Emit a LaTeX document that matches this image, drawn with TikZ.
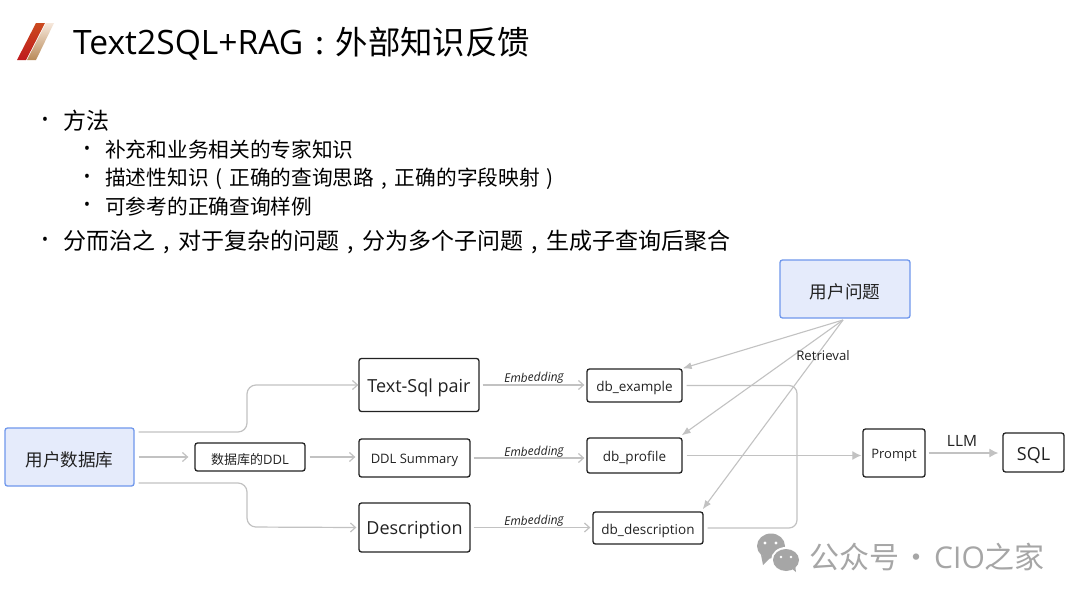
\documentclass[tikz,border=0pt]{standalone}
\usepackage{fontspec}
\setmainfont{Noto Sans CJK SC}
\newfontfamily\latf{Open Sans}
\usetikzlibrary{arrows.meta}
\definecolor{linegray}{HTML}{C2C2C2}
\definecolor{bluefill}{HTML}{E5EBFB}
\definecolor{blueedge}{HTML}{7098EC}
\definecolor{inkc}{HTML}{222222}
\definecolor{markc}{HTML}{A6A6A6}
\definecolor{logoa}{HTML}{BF1A1E}
\definecolor{logob}{HTML}{CB4A1E}
\definecolor{logoc}{HTML}{B98A58}
\definecolor{logod}{HTML}{F6E8DC}
\newcommand{\fs}[1]{\fontsize{#1}{#1}\selectfont}
\newcommand{\fw}[1]{\makebox[1em][c]{#1}}
\newcommand{\dn}[1]{\raisebox{-2.6pt}[\height][\depth]{#1}}
\tikzset{
  darkbox/.style={draw=inkc,line width=1.3pt,rounded corners=2.5pt,fill=white,inner sep=0pt,text=inkc},
  bluebox/.style={draw=blueedge,line width=1.3pt,rounded corners=2.5pt,fill=bluefill,inner sep=0pt,text=inkc},
  txt/.style={inner sep=0pt,anchor=west,text=black},
  dot/.style={inner sep=0pt,anchor=center,text=black,font=\latf\fs{17}},
  conn/.style={draw=linegray,line width=1.2pt,rounded corners=9pt,-{Straight Barb[length=5pt,width=9pt]}},
  plainconn/.style={draw=linegray,line width=1.2pt,rounded corners=8pt},
  solidconn/.style={draw=linegray,line width=1.2pt,-{Latex[length=9pt,width=9pt]}},
  retr/.style={draw=linegray,line width=1.1pt,-{Latex[length=9pt,width=7pt]}},
  emb/.style={inner sep=0pt,text=inkc,font=\latf\itshape\fs{12}},
}
\begin{document}
\begin{tikzpicture}[x=1pt,y=-1pt]
\useasboundingbox (0,0) rectangle (1080,600);
\fill[white] (0,0) rectangle (1080,600);
% logo
\shade[bottom color=logoa,top color=logob] (17,60) -- (26,60) -- (45,23) -- (36,23) -- cycle;
\shade[bottom color=logoc,top color=logod] (27,60) -- (36,60) -- (54,23) -- (46,23) -- cycle;
% title and bullets
\node[txt] (title) at (73,44) {\fs{32.4}{\latf\fs{33.6}Text2SQL+RAG}\fw{:}外部知识反馈};
\node[dot] (b1) at (45,121) {•};
\node[txt] (t1) at (63,121) {\fs{23}方法};
\node[dot] (b2) at (87,150) {•};
\node[txt] (t2) at (105,150) {\fs{20.7}补充和业务相关的专家知识};
\node[dot] (b3) at (87,178) {•};
\node[txt] (t3) at (105,179) {\fs{20.7}描述性知识\fw{(}正确的查询思路\fw{,}正确的字段映射\fw{)}};
\node[dot] (b4) at (87,206) {•};
\node[txt] (t4) at (105,207) {\fs{20.7}可参考的正确查询样例};
\node[dot] (b5) at (45,241) {•};
\node[txt] (t5) at (63,242) {\fs{23}分而治之\fw{,}对于复杂的问题\fw{,}分为多个子问题\fw{,}生成子查询后聚合};
% boxes
\node[bluebox,minimum width=129pt,minimum height=58pt] (udb) at (69.5,457) {\dn{\fs{17.6}用户数据库}};
\node[darkbox,minimum width=110pt,minimum height=28pt] (ddl) at (250,457) {\dn{\fs{13}数据库的{\latf DDL}}};
\node[darkbox,minimum width=120pt,minimum height=53pt] (pair) at (419,385) {\dn{\latf\fs{18}Text-Sql pair}};
\node[darkbox,minimum width=111pt,minimum height=38pt] (sum) at (414.5,458) {\dn{\latf\fs{13}DDL Summary}};
\node[darkbox,minimum width=111pt,minimum height=49pt] (desc) at (414.5,527.5) {\dn{\latf\fs{18}Description}};
\node[darkbox,minimum width=95pt,minimum height=33pt] (dbe) at (634.5,385.5) {\dn{\latf\fs{13.5}db\_example}};
\node[darkbox,minimum width=95pt,minimum height=35pt] (dbp) at (634.5,455.5) {\dn{\latf\fs{13.5}db\_profile}};
\node[darkbox,minimum width=110pt,minimum height=32pt] (dbd) at (648,528) {\dn{\latf\fs{13.5}db\_description}};
\node[darkbox,minimum width=62pt,minimum height=48pt] (prm) at (894,453) {\dn{\latf\fs{13}Prompt}};
\node[darkbox,minimum width=61pt,minimum height=39pt] (sql) at (1033.5,452.5) {\dn{\latf\fs{18}SQL}};
\node[bluebox,minimum width=130pt,minimum height=58pt] (uq) at (845,289) {\dn{\fs{17.6}用户问题}};
% left connectors
\coordinate (ut) at ([xshift=4pt,yshift=25pt]udb.east);
\coordinate (ub) at ([xshift=4pt,yshift=-26pt]udb.east);
\coordinate (bendt) at (247,385);
\coordinate (bendb) at (247,527);
\draw[conn] (ut) -- (bendt |- ut) -- (bendt) -- (pair.west);
\draw[conn] (ub) -- (bendb |- ub) -- (bendb) -- ([xshift=-2pt]desc.west);
\draw[conn] ([xshift=4pt]udb.east) -- ([xshift=-6pt]ddl.west);
\draw[conn] ([xshift=4pt]ddl.east) -- ([xshift=-3pt]sum.west |- ddl.east);
% embedding
\draw[conn] ([xshift=3pt]pair.east) -- ([xshift=-2pt]dbe.west |- pair.east);
\draw[conn] ([xshift=3pt]sum.east) -- ([xshift=-2pt]dbp.west |- sum.east);
\draw[conn] ([xshift=3pt]desc.east) -- ([xshift=-2pt]dbd.west |- desc.east);
\node[emb,rotate=2] (e1) at (534,378.5) {Embedding};
\node[emb,rotate=2] (e2) at (534,452.5) {Embedding};
\node[emb,rotate=2] (e3) at (534,521.5) {Embedding};
% merge
\coordinate (mx) at (797,0);
\draw[plainconn] ([xshift=4pt]dbe.east) -- (mx |- dbe.east) -- (mx |- dbd.east) -- ([xshift=4pt]dbd.east);
\draw[solidconn] ([xshift=4pt]dbp.east) -- ([xshift=-1pt]prm.west |- dbp.east);
\draw[solidconn] ([xshift=3pt]prm.east) -- ([xshift=-4pt]sql.west |- prm.east);
% retrieval
\coordinate (rs) at (843,320);
\draw[retr] (rs) -- (dbe.north east);
\draw[retr] (rs) -- ([xshift=-1pt,yshift=2pt]dbp.north east);
\draw[retr] (rs) -- ([xshift=-1pt,yshift=2pt]dbd.north east);
\node[inner sep=0pt,text=inkc,font=\latf\fs{13.2}] (rl) at (823,355.5) {Retrieval};
\node[inner sep=0pt,text=inkc,font=\latf\fs{15.5}] (llm) at (962,441) {LLM};
% watermark
\fill[markc] (771,546) ellipse (14pt and 12.5pt);
\fill[markc] (761,555) -- (763,565) -- (770,558) -- cycle;
\fill[white] (786,560) ellipse (15pt and 13pt);
\fill[markc] (786,560) ellipse (13pt and 11pt);
\fill[markc] (791,568) -- (796,572) -- (795,565) -- cycle;
\fill[white] (765,543) circle (1.7pt) (776,543) circle (1.7pt) (781,557) circle (1.4pt) (791,557) circle (1.4pt);
\node[txt,text=markc] (wm) at (809,557) {\fs{30}公众号\makebox[35pt][c]{·}{\latf CIO}之家};
\end{tikzpicture}
\end{document}
